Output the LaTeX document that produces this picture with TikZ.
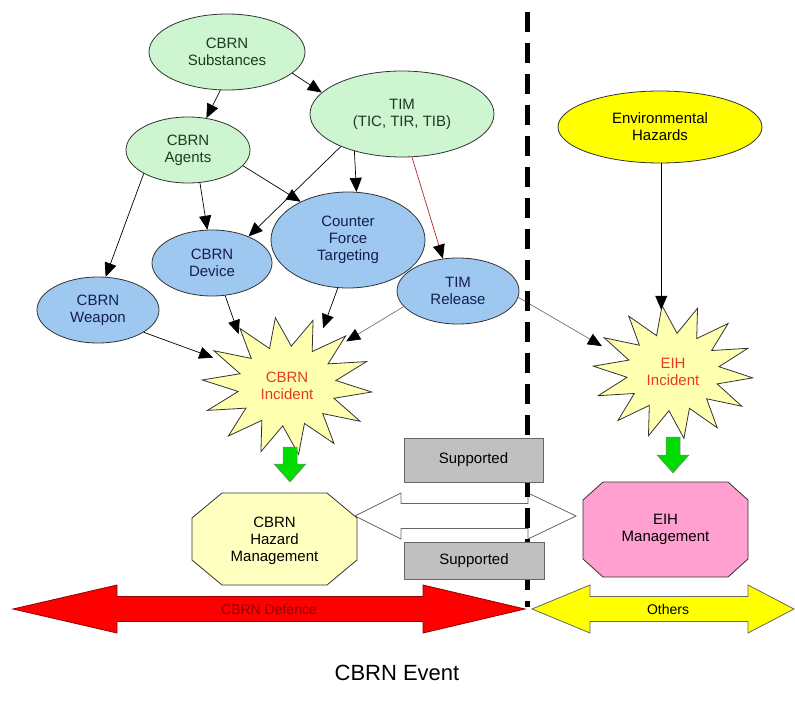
\documentclass[tikz,border=0pt]{standalone}
\usepackage{fontspec}
\setmainfont{Liberation Sans}
\usetikzlibrary{shapes.geometric,arrows.meta}
\definecolor{greenfill}{RGB}{204,245,208}
\definecolor{greentext}{RGB}{25,60,35}
\definecolor{bluefill}{RGB}{158,200,240}
\definecolor{navytext}{RGB}{20,30,80}
\definecolor{envyellow}{RGB}{255,255,0}
\definecolor{starfill}{RGB}{255,255,176}
\definecolor{hazfill}{RGB}{255,255,192}
\definecolor{pinkfill}{RGB}{255,160,208}
\definecolor{supfill}{RGB}{192,192,192}
\definecolor{incred}{RGB}{230,60,30}
\definecolor{defred}{RGB}{150,0,0}
\definecolor{arrowred}{RGB}{255,0,0}
\definecolor{arrowgreen}{RGB}{0,220,0}
\definecolor{linered}{RGB}{170,40,40}
\newcommand{\dblarr}[8]{%
  \draw[#1] (#2,#4) -- ({#2+#7},{#4-#5}) -- ({#2+#7},{#4-#6}) -- ({#3-#8},{#4-#6}) -- ({#3-#8},{#4-#5}) -- (#3,#4) -- ({#3-#8},{#4+#5}) -- ({#3-#8},{#4+#6}) -- ({#2+#7},{#4+#6}) -- ({#2+#7},{#4+#5}) -- cycle;}
\newcommand{\downarr}[3]{%
  \draw[fill=arrowgreen,draw=black!50,line width=0.5pt] ({#1-7},#2) -- ({#1+7},#2) -- ({#1+7},{#3-18}) -- ({#1+16},{#3-18}) -- (#1,#3) -- ({#1-16},{#3-18}) -- ({#1-7},{#3-18}) -- cycle;}
\newcommand{\burst}[4]{%
  \draw[fill=starfill,draw=black!80,line width=0.8pt] plot[samples at={0,...,27},variable=\k] ({#1+#3*(1-0.42*mod(\k,2))*cos(\k*360/28+5)},{#2+#4*(1-0.42*mod(\k,2))*sin(\k*360/28+5)}) -- cycle;}
\begin{document}
\begin{tikzpicture}[x=1pt,y=-1pt,font=\fontsize{15}{17}\selectfont,
  ell/.style={ellipse,draw=black!80,line width=0.8pt,inner sep=0pt,align=center},
  gell/.style={ell,fill=greenfill,text=greentext},
  bell/.style={ell,fill=bluefill,text=navytext},
  anch/.style={ellipse,inner sep=0pt,align=center,text=incred},
  arr/.style={-{Triangle[length=14pt,width=12pt,color=black]},line width=0.7pt,draw=black},
  supbox/.style={draw=black!60,fill=supfill,line width=0.8pt,inner sep=0pt}]
\useasboundingbox (0,0) rectangle (795,714);

% ellipses
\node[gell,minimum width=156pt,minimum height=76pt] (sub) at (227,52) {CBRN\\Substances};
\node[gell,minimum width=184pt,minimum height=86pt] (tim) at (402,114) {TIM\\(TIC, TIR, TIB)};
\node[gell,minimum width=124pt,minimum height=66pt] (ag) at (188,150) {CBRN\\Agents};
\node[ell,fill=envyellow,minimum width=204pt,minimum height=72pt] (env) at (660,127) {Environmental\\Hazards};
\node[bell,minimum width=154pt,minimum height=96pt] (cf) at (348,240) {Counter\\Force\\Targeting};
\node[bell,minimum width=120pt,minimum height=66pt] (dev) at (212,263) {CBRN\\Device};
\node[bell,minimum width=122pt,minimum height=66pt] (rel) at (458,291) {TIM\\Release};
\node[bell,minimum width=122pt,minimum height=66pt] (wea) at (98,310) {CBRN\\Weapon};

% stars
\burst{287}{386}{85}{69}
\burst{673}{372}{80}{67}
\node[anch,minimum width=164pt,minimum height=128pt] (inc) at (287,386) {CBRN\\Incident};
\node[anch,minimum width=156pt,minimum height=124pt] (eih) at (673,372) {EIH\\Incident};

% connectors
\draw[arr] (sub.260) -- (ag.60);
\draw[arr] (sub.342) -- (tim.165);
\draw[arr] (tim.208) -- (dev.36);
\draw[arr] (ag.344) -- (cf.141);
\draw[arr] (tim.218) -- (cf.80);
\draw[arr,draw=linered] (tim.283) -- (rel.115);
\draw[arr] (ag.290) -- (dev.98);
\draw[arr] (ag.208) -- (wea.77);
\draw[arr] (wea.334) -- (inc.159);
\draw[arr] (dev.292) -- (inc.133);
\draw[arr] (cf.258) -- (inc.58);
\draw[arr,draw=black!55] (rel.196) -- (inc.37);
\draw[arr,draw=black!55] (rel.354) -- (eih.160);
\draw[arr] (env.272) -- (env.272 |- eih.north);

% white double arrow
\dblarr{fill=white,draw=black!60,line width=0.8pt}{355}{576}{516}{23}{12.5}{46}{48}

% dashed divider
\draw[line width=5pt,dash pattern=on 20pt off 11pt] (527,12) -- (527,607);

% supported boxes
\node[supbox,minimum width=139pt,minimum height=44pt] (sup1) at (473.5,460) {Supported};
\node[supbox,minimum width=140pt,minimum height=37pt] (sup2) at (474,561) {Supported};

% management octagons
\draw[fill=hazfill,draw=black!80,line width=0.8pt] (222,493) -- (327,493) -- (357,518) -- (357,560) -- (327,585) -- (222,585) -- (192,560) -- (192,518) -- cycle;
\node[align=center] (haz) at (274.5,541) {CBRN\\Hazard\\Management};
\draw[fill=pinkfill,draw=black!80,line width=0.8pt] (603,482) -- (728,482) -- (748,500) -- (748,559) -- (728,577) -- (603,577) -- (583,559) -- (583,500) -- cycle;
\node[align=center] (eihm) at (665.5,529) {EIH\\Management};

% green arrows
\downarr{290}{447}{482}
\downarr{673}{437}{473}

% bottom double arrows
\dblarr{fill=arrowred,draw=defred,line width=0.8pt}{13}{525}{609}{24}{12.5}{104}{102}
\dblarr{fill=envyellow,draw=black!60,line width=0.8pt}{532}{794}{609}{24}{12.5}{58}{46}
\node[text=defred,font=\fontsize{14}{16}\selectfont] (def) at (269,609) {CBRN Defence};
\node[font=\fontsize{14}{16}\selectfont] (oth) at (668,609) {Others};

% caption
\node[font=\fontsize{22}{26}\selectfont] (cap) at (397,673) {CBRN Event};
\end{tikzpicture}
\end{document}
